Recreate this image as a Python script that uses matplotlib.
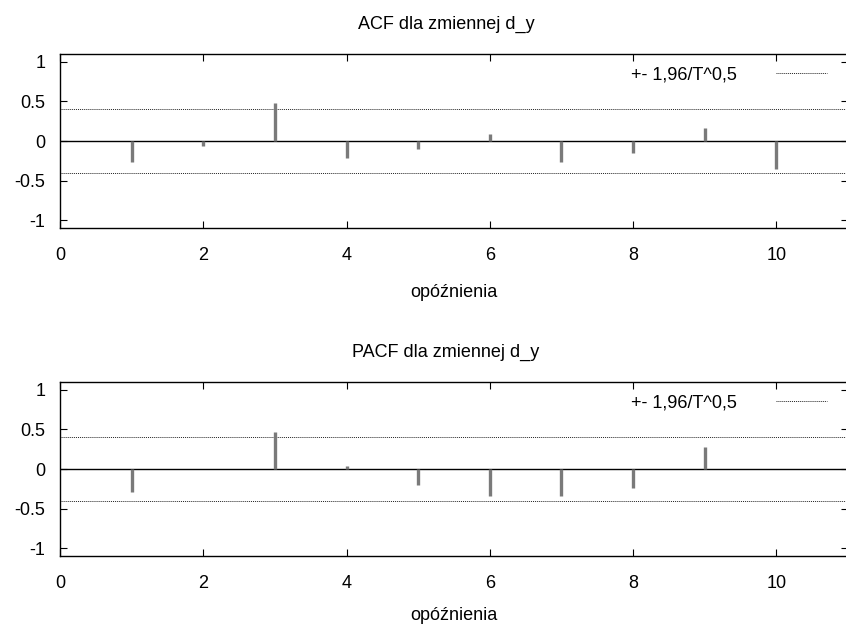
import matplotlib
matplotlib.use("Agg")
import matplotlib.pyplot as plt
from matplotlib.lines import Line2D

acf_lags = [1, 2, 3, 4, 5, 6, 7, 8, 9, 10]
acf_vals = [-0.26, -0.059, 0.486, -0.214, -0.096, 0.088, -0.264, -0.147, 0.159, -0.356]
pacf_lags = [1, 2, 3, 4, 5, 6, 7, 8, 9]
pacf_vals = [-0.289, 0.005, 0.465, 0.038, -0.197, -0.34, -0.34, -0.243, 0.273]
conf = 0.40
titles = ["ACF dla zmiennej d_y", "PACF dla zmiennej d_y"]
xlabel = "opóźnienia"
legend_label = "+- 1,96/T^0,5"
xticks = [0, 2, 4, 6, 8, 10]
yticks = [-1, -0.5, 0, 0.5, 1]
ytick_labels = ["-1", "-0.5", "0", "0.5", "1"]

plt.rcParams['font.family'] = ['Liberation Sans', 'DejaVu Sans']
plt.rcParams['font.size'] = 13

W, H = 846, 627
fig = plt.figure(figsize=(W / 100, H / 100), dpi=100)

boxes = [(60, 54, 228), (60, 382, 556)]
labelpads = [14, 10.5]
data = [(acf_lags, acf_vals), (pacf_lags, pacf_vals)]

for (left, top, bottom), (lags, vals), title, lp in zip(boxes, data, titles, labelpads):
    aw, ah = 848 - left, bottom - top
    ax = fig.add_axes([left / W, 1 - bottom / H, aw / W, ah / H])
    ax.set_xlim(0, 11)
    ax.set_ylim(-1.1, 1.1)
    ax.axhline(0, color='black', lw=1.0, zorder=2)
    ax.vlines(lags, 0, vals, color='#7a7a7a', lw=2.4, zorder=3)
    ax.axhline(conf, color='#222222', lw=0.7, ls=(0, (1, 1)), zorder=1)
    ax.axhline(-conf, color='#222222', lw=0.7, ls=(0, (1, 1)), zorder=1)
    ax.set_xticks(xticks)
    ax.set_yticks(yticks)
    ax.set_yticklabels(ytick_labels)
    ax.tick_params(direction='in', length=5, width=0.8, top=True, right=True)
    ax.tick_params(axis='x', pad=14)
    ax.tick_params(axis='y', pad=10.5)
    for s in ax.spines.values():
        s.set_linewidth(1.0)
    ax.set_title(title, pad=18, fontsize=13, x=0.49)
    ax.set_xlabel(xlabel, labelpad=lp)
    h = Line2D([], [], color='#222222', lw=0.7, ls=(0, (1, 1)))
    ax.legend([h], [legend_label], loc='upper right', frameon=False,
              markerfirst=False, handlelength=2.8, handletextpad=2.2,
              borderaxespad=0, borderpad=0,
              bbox_to_anchor=(1 - 21 / aw, 1 - 12 / ah))

fig.savefig("out.png", dpi=100)
